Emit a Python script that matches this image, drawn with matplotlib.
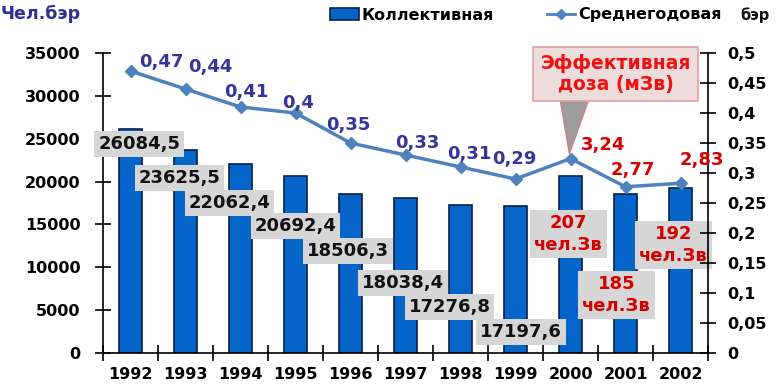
import matplotlib
matplotlib.use('Agg')
import matplotlib.pyplot as plt
from matplotlib.patches import Patch, Polygon
from matplotlib.lines import Line2D
from matplotlib.ticker import FuncFormatter, MultipleLocator

# data
YEARS       = ['1992', '1993', '1994', '1995', '1996', '1997',
               '1998', '1999', '2000', '2001', '2002']
COLLECTIVE  = [26084.5, 23625.5, 22062.4, 20692.4, 18506.3, 18038.4,
               17276.8, 17197.6, 20700, 18500, 19200]
AVG_DOSE    = [0.47, 0.44, 0.41, 0.40, 0.35, 0.33, 0.31, 0.29, 0.324, 0.277, 0.283]
BAR_TEXT    = ['26084,5', '23625,5', '22062,4', '20692,4', '18506,3', '18038,4',
               '17276,8', '17197,6', '207\nчел.Зв', '185\nчел.Зв', '192\nчел.Зв']
LINE_TEXT   = ['0,47', '0,44', '0,41', '0,4', '0,35', '0,33', '0,31', '0,29',
               '3,24', '2,77', '2,83']

# label placement (layout only)
BAR_LBL_X   = [0.16, 0.89, 1.8, 3.0, 3.95, 4.95, 5.8, 7.1, 7.96, 8.84, 9.87]
BAR_LBL_Y   = [24380, 20420, 17500, 14820, 11900, 8170, 5370, 2450, 13880, 6770, 12600]
LINE_OFF    = [(31, 9), (25, 22), (6, 15), (3, 10), (-2, 18), (12, 12),
               (9, 13), (-1, 20), (32, 14), (7, 17), (21, 23)]

BAR_C   = '#0565c9'
BAR_EC  = '#0a1f4a'
LINE_C  = '#4f81bd'
NAVY    = '#34349a'
RED     = '#d40000'
GREY    = '#d6d6d6'

W, H = 783, 385
fig = plt.figure(figsize=(W / 100, H / 100), dpi=100)
ax = fig.add_axes([103 / W, 1 - 353 / H, 605 / W, 300 / H])
ax2 = ax.twinx()

x = list(range(len(YEARS)))
ax.bar(x, COLLECTIVE, width=0.42, color=BAR_C, edgecolor=BAR_EC, linewidth=1.2, zorder=2)

ax.set_xlim(-0.5, len(YEARS) - 0.5)
ax.set_ylim(0, 35000)
ax.yaxis.set_major_locator(MultipleLocator(5000))
ax.set_xticks(x)
ax.set_xticklabels(YEARS)
ax.set_xticks([i - 0.5 for i in range(len(YEARS) + 1)], minor=True)
ax.tick_params(axis='x', which='major', length=0, pad=10)
ax.tick_params(axis='x', which='minor', direction='inout', length=12, width=1.2)
ax.tick_params(axis='y', direction='inout', length=12, width=1.2, pad=10)
for lbl in ax.get_xticklabels():
    lbl.set_fontsize(11.5); lbl.set_fontweight('bold')
for lbl in ax.get_yticklabels():
    lbl.set_fontsize(11.5); lbl.set_fontweight('bold')

for sp in ['top', 'right']:
    ax.spines[sp].set_visible(False)
for sp in ['bottom', 'left']:
    ax.spines[sp].set_linewidth(1.2)

# bar value labels
for i, t in enumerate(BAR_TEXT):
    red = i >= 8
    ax.text(BAR_LBL_X[i], BAR_LBL_Y[i], t, ha='center', va='center',
            fontsize=13, fontweight='bold', color=RED if red else '#111111',
            linespacing=1.3, zorder=4,
            bbox=dict(boxstyle='square,pad=0.22', fc=GREY, ec='none'))

# average dose line
ax2.plot(x, AVG_DOSE, color=LINE_C, lw=2.5, marker='D', markersize=6.5, zorder=3)
ax2.set_ylim(0, 0.5)
ax2.yaxis.set_major_locator(MultipleLocator(0.05))
ax2.yaxis.set_major_formatter(FuncFormatter(lambda v, p: ('%g' % round(v, 2)).replace('.', ',')))
ax2.tick_params(axis='y', direction='inout', length=12, width=1.2, pad=8)
for lbl in ax2.get_yticklabels():
    lbl.set_fontsize(11.5); lbl.set_fontweight('bold')
for sp in ['top', 'left', 'bottom']:
    ax2.spines[sp].set_visible(False)
ax2.spines['right'].set_linewidth(1.2)

for i, t in enumerate(LINE_TEXT):
    ax2.annotate(t, (x[i], AVG_DOSE[i]), xytext=LINE_OFF[i], textcoords='offset pixels',
                 ha='center', va='center', fontsize=13, fontweight='bold',
                 color=RED if i >= 8 else NAVY, zorder=5)

# callout: grey pointer under a pinkish box
ax2.add_patch(Polygon([(7.76, 0.45), (8.44, 0.45), (7.98, AVG_DOSE[8] + 0.008)], closed=True,
                      fc='#9c9c9c', ec='#d08080', lw=1, zorder=6))
ax2.text(8.82, 0.465, 'Эффективная\nдоза (мЗв)', ha='center', va='center',
         fontsize=13.5, fontweight='bold', color='#ee1111', linespacing=1.12, zorder=7,
         bbox=dict(boxstyle='square,pad=0.4', fc='#eedcdc', ec='#e0a0a0', lw=1.2))

# titles and legend
fig.text(1 / W, 1 - 14 / H, 'Чел.бэр', fontsize=12.5, fontweight='bold', color='#2e3192',
         ha='left', va='center')
fig.text(740 / W, 1 - 15 / H, 'бэр', fontsize=10.5, fontweight='bold', color='#111111',
         ha='left', va='center')
handles = [Patch(fc=BAR_C, ec=BAR_EC, lw=1.2),
           Line2D([0], [0], color=LINE_C, lw=2, marker='D', markersize=5)]
fig.legend(handles, ['Коллективная', 'Среднегодовая'], loc='center left',
           bbox_to_anchor=(316 / W, 1 - 15 / H), ncol=2, frameon=False,
           handlelength=1.8, handletextpad=0.15, columnspacing=3.3,
           prop={'weight': 'bold', 'size': 11.5})

fig.savefig('out.png', dpi=100)
